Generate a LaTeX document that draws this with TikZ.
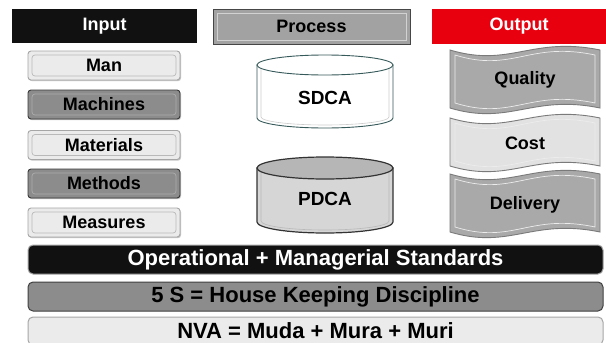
\documentclass[tikz,border=0pt]{standalone}
\usepackage{fontspec}
\setmainfont{Liberation Sans}
\usetikzlibrary{shadows}

\definecolor{inkblack}{HTML}{111111}
\definecolor{procgray}{HTML}{A2A2A2}
\definecolor{outred}{HTML}{E8000E}
\definecolor{paleface}{HTML}{EBEBEB}
\definecolor{darkface}{HTML}{8C8C8C}
\definecolor{rimgray}{HTML}{7A7A7A}
\definecolor{ribbongray}{HTML}{A9A9A9}
\definecolor{ribbonpale}{HTML}{E2E2E2}
\definecolor{drumpale}{HTML}{D6D6D6}

% three-part banner ribbon: top edge, bottom edge, inner top, inner bottom, fill
\newcommand\ribbon[5]{%
  \filldraw[fill=#5, draw=rimgray, line width=0.9pt]
    (450,#1) .. controls +(60,18) and +(-68,-14) .. (600,#1)
    -- (600,#2) .. controls +(-68,-14) and +(60,18) .. (450,#2) -- cycle;
  \draw[white!85!gray, line width=0.7pt]
    (455,#3) .. controls +(58,18) and +(-66,-14) .. (595,#3)
    -- (595,#4) .. controls +(-66,-14) and +(58,18) .. (455,#4) -- cycle;
}

\begin{document}
\begin{tikzpicture}[x=1pt, y=-1pt,
  lbl/.style={font=\fontsize{18}{20}\selectfont\bfseries},
  big/.style={font=\fontsize{22}{24}\selectfont\bfseries},
  bevel/.style={path picture={\draw[#1, line width=0.7pt]
      ([shift={(4pt,-4pt)}]path picture bounding box.north west) rectangle
      ([shift={(-4pt,4pt)}]path picture bounding box.south east);}},
  head/.style={lbl, inner sep=0pt, minimum height=34pt},
  inbox/.style={lbl, inner sep=0pt, rounded corners=3pt, minimum width=152pt,
      minimum height=29pt, line width=0.9pt,
      drop shadow={shadow xshift=1pt, shadow yshift=-1.2pt, fill=black!45}},
  inpale/.style={inbox, fill=paleface, draw=gray!70, bevel=gray!55},
  indark/.style={inbox, fill=darkface, draw=gray!45!black, bevel=gray!65},
  bar/.style={big, inner sep=0pt, rounded corners=5pt, minimum width=575pt,
      line width=1pt},
  txt/.style={lbl, inner sep=0pt}
]
\useasboundingbox (0,0) rectangle (606,343);
\clip (0,0) rectangle (606,343);
\fill[white] (0,0) rectangle (606,343);

% column headings
\node[head, fill=inkblack, text=white, minimum width=185pt] (input) at (104.5,26) {Input};
\node[head, fill=procgray, draw=gray!55!black, line width=0.8pt,
      minimum width=197pt, minimum height=35pt, bevel=gray!35] (process) at (311.5,26.5) {Process};
\node[head, fill=outred, text=white, minimum width=174pt, minimum height=35pt] (output) at (519,26.5) {Output};

% the five inputs
\node[inpale] (man)       at (104,65.5)  {Man};
\node[indark] (machines)  at (104,104.5) {Machines};
\node[inpale] (materials) at (104,145)   {Materials};
\node[indark] (methods)   at (104,183.5) {Methods};
\node[inpale] (measures)  at (104,222.5) {Measures};

% SDCA drum
\filldraw[fill=white, draw=gray!60!teal!70!black, line width=0.9pt]
  (257,65) -- (257,118) arc[start angle=180, end angle=360, x radius=68pt, y radius=10pt]
  -- (393,65) -- cycle;
\draw[gray!40, line width=0.6pt]
  (261,68) -- (261,117) arc[start angle=180, end angle=360, x radius=64pt, y radius=8pt] -- (389,68);
\filldraw[fill=white, draw=gray!60!teal!70!black, line width=0.9pt]
  (325,65) ellipse[x radius=68pt, y radius=10pt];
\node[txt, font=\fontsize{19}{21}\selectfont\bfseries] (sdca) at (325,98) {SDCA};

% PDCA drum
\filldraw[fill=drumpale, draw=black!80, line width=1.2pt]
  (257,168) -- (257,222) arc[start angle=180, end angle=360, x radius=68pt, y radius=11pt]
  -- (393,168) -- cycle;
\draw[gray!55, line width=0.6pt]
  (261,172) -- (261,221) arc[start angle=180, end angle=360, x radius=64pt, y radius=9pt] -- (389,172);
\filldraw[fill=drumpale!85!black, draw=black!80, line width=1.2pt]
  (325,168) ellipse[x radius=68pt, y radius=11pt];
\node[txt, font=\fontsize{19}{21}\selectfont\bfseries] (pdca) at (325,199) {PDCA};

% the three outputs
\ribbon{50}{108}{55}{103}{ribbongray}
\node[txt] (quality) at (525,80) {Quality};
\ribbon{118}{166}{123}{161}{ribbonpale}
\node[txt] (cost) at (525,143) {Cost};
\ribbon{174}{232}{179}{227}{ribbongray}
\node[txt] (delivery) at (525,205) {Delivery};

% foundation bars
\node[bar, fill=inkblack, draw=gray!70, text=white, minimum height=29pt]
  (standards) at (315.5,259.5) {Operational + Managerial Standards};
\node[bar, fill=darkface, draw=gray!50!black, minimum height=29pt]
  (fives) at (315.5,296.5) {5 S = House Keeping Discipline};
\node[bar, fill=paleface, draw=gray!70, minimum height=28pt]
  (nva) at (315.5,331) {NVA = Muda + Mura + Muri};
\end{tikzpicture}
\end{document}
